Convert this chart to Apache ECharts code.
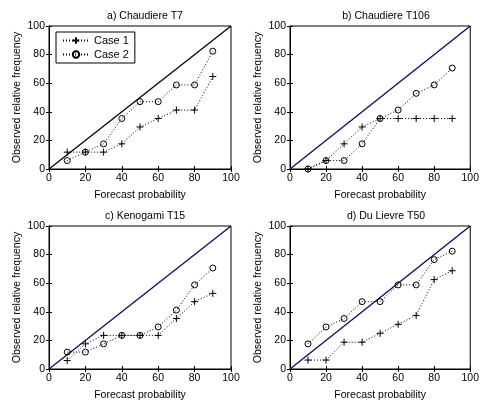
<!DOCTYPE html>
<html>
<head>
<meta charset="utf-8">
<script src="https://cdn.jsdelivr.net/npm/echarts@6/dist/echarts.min.js"></script>
<style>
  html, body { margin: 0; padding: 0; background: #fff; }
  #chart { width: 482px; height: 406px; }
</style>
</head>
<body>
<div id="chart"></div>
<script>
// forecast probability bins
var probs = [10, 20, 30, 40, 50, 60, 70, 80, 90];
var ticks = [0, 20, 40, 60, 80, 100];

var titles = ['a) Chaudiere T7', 'b) Chaudiere T106', 'c) Kenogami T15', 'd) Du Lievre T50'];

// observed relative frequency
var caseA1 = [11.8, 11.8, 11.8, 17.6, 29.4, 35.3, 41.2, 41.2, 64.7];
var caseA2 = [5.9, 11.8, 17.6, 35.3, 47.1, 47.1, 58.8, 58.8, 82.4];
var caseB1 = [0, 5.9, 17.6, 29.4, 35.3, 35.3, 35.3, 35.3, 35.3];
var caseB2 = [0, 5.9, 5.9, 17.6, 35.3, 41.2, 52.9, 58.8, 70.6];
var caseC1 = [5.9, 17.6, 23.5, 23.5, 23.5, 23.5, 35.3, 47.1, 52.9];
var caseC2 = [11.8, 11.8, 17.6, 23.5, 23.5, 29.4, 41.2, 58.8, 70.6];
var caseD1 = [6.25, 6.25, 18.75, 18.75, 25, 31.25, 37.5, 62.5, 68.75];
var caseD2 = [17.6, 29.4, 35.3, 47.1, 47.1, 58.8, 58.8, 76.5, 82.4];

var case1 = [caseA1, caseB1, caseC1, caseD1];
var case2 = [caseA2, caseB2, caseC2, caseD2];
var diagColor = ['#000000', '#0b0b55', '#0b0b55', '#0b0b55'];

var FONT = 'Liberation Sans';
var FS = 10.5;
var plusPath = 'path://M0,5L10,5M5,0L5,10';

var grids = [
  {left: 49, top: 26, width: 182, height: 143},
  {left: 290, top: 26, width: 182, height: 143},
  {left: 49, top: 226, width: 182, height: 143},
  {left: 290, top: 226, width: 182, height: 143}
];

function pairs(ys) {
  return probs.map(function (p, i) { return [p, ys[i]]; });
}

var xAxes = [], yAxes = [], series = [], titleList = [];
grids.forEach(function (g, k) {
  g.show = true;
  g.borderColor = '#000';
  g.borderWidth = 1;
  g.containLabel = false;
  titleList.push({
    text: titles[k],
    left: g.left + g.width / 2,
    top: g.top - 20,
    textAlign: 'center',
    textStyle: {fontFamily: FONT, fontSize: FS, fontWeight: 'normal', color: '#000'}
  });
  var base = {
    gridIndex: k, type: 'value', min: 0, max: 100, interval: 20,
    splitLine: {show: false},
    axisLine: {show: true, lineStyle: {color: '#000', width: 1}},
    axisTick: {show: true, inside: true, length: 3, lineStyle: {color: '#000'}}
  };
  xAxes.push(Object.assign({}, base, {
    position: 'bottom',
    name: 'Forecast probability', nameLocation: 'middle', nameGap: 21,
    nameTextStyle: {fontFamily: FONT, fontSize: FS, color: '#000'},
    axisLabel: {fontFamily: FONT, fontSize: FS, color: '#000', margin: 4}
  }));
  xAxes.push(Object.assign({}, base, {position: 'top', axisLabel: {show: false}}));
  yAxes.push(Object.assign({}, base, {
    position: 'left',
    name: 'Observed relative frequency', nameLocation: 'middle', nameGap: 26,
    nameTextStyle: {fontFamily: FONT, fontSize: FS, color: '#000'},
    axisLabel: {fontFamily: FONT, fontSize: FS, color: '#000', margin: 4}
  }));
  yAxes.push(Object.assign({}, base, {position: 'right', axisLabel: {show: false}}));

  series.push({
    type: 'line', xAxisIndex: 2 * k, yAxisIndex: 2 * k,
    data: [[0, 0], [100, 100]], symbol: 'none', silent: true,
    lineStyle: {color: diagColor[k], width: 1.3}
  });
  series.push({
    name: 'Case 1', type: 'line', xAxisIndex: 2 * k, yAxisIndex: 2 * k,
    data: pairs(case1[k]),
    symbol: plusPath, symbolSize: 7,
    itemStyle: {color: 'transparent', borderColor: '#000', borderWidth: 1},
    lineStyle: {color: '#000', width: 1, type: [1, 2]}
  });
  series.push({
    name: 'Case 2', type: 'line', xAxisIndex: 2 * k, yAxisIndex: 2 * k,
    data: pairs(case2[k]),
    symbol: 'circle', symbolSize: 6,
    itemStyle: {color: 'transparent', borderColor: '#000', borderWidth: 1},
    lineStyle: {color: '#000', width: 1, type: [1, 2]}
  });
});

var chart = echarts.init(document.getElementById('chart'), null, {renderer: 'canvas'});
chart.setOption({
  animation: false,
  backgroundColor: '#fff',
  title: titleList,
  grid: grids,
  xAxis: xAxes,
  yAxis: yAxes,
  legend: {
    data: ['Case 1', 'Case 2'],
    orient: 'vertical',
    left: 56, top: 32,
    padding: [3, 6, 3, 6],
    itemGap: 3,
    itemWidth: 26, itemHeight: 8,
    backgroundColor: '#fff',
    borderColor: '#000', borderWidth: 1,
    textStyle: {fontFamily: FONT, fontSize: FS + 0.5, color: '#000'}
  },
  series: series
});
</script>
</body>
</html>
